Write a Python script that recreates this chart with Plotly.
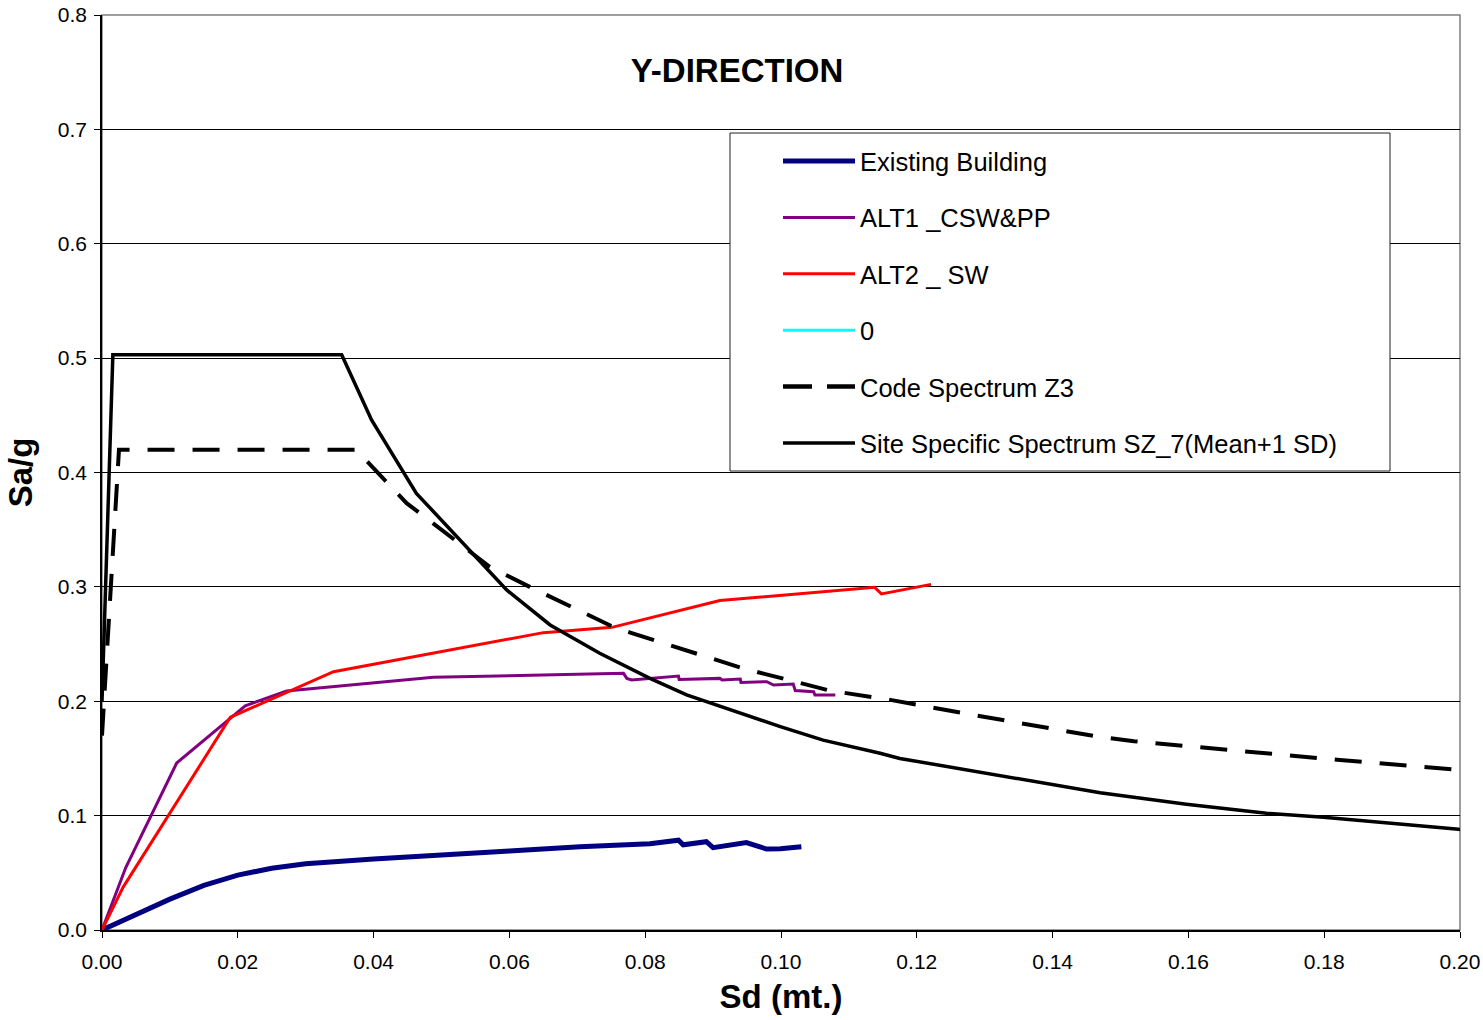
import plotly.graph_objects as go

# ---------------- data ----------------
series_names = ["Existing Building", "ALT1 _CSW&PP", "ALT2 _ SW", "0",
                "Code Spectrum Z3", "Site Specific Spectrum SZ_7(Mean+1 SD)"]

sd_existing = [0.0, 0.005, 0.010, 0.015, 0.020, 0.025, 0.030, 0.040, 0.050, 0.060,
               0.0704, 0.0807, 0.0849, 0.0856, 0.0890, 0.0900, 0.0949, 0.0979, 0.0999, 0.1030]
sa_existing = [0.0, 0.014, 0.027, 0.039, 0.048, 0.054, 0.058, 0.062, 0.066, 0.069,
               0.0728, 0.0755, 0.0785, 0.0745, 0.0772, 0.0720, 0.0764, 0.0708, 0.0710, 0.0728]

sd_alt1 = [0.0, 0.0035, 0.0110, 0.0211, 0.0272, 0.0488, 0.0768, 0.0773, 0.0780, 0.0849,
           0.0850, 0.0910, 0.0913, 0.0940, 0.0941, 0.0979, 0.0989, 0.1018, 0.1021, 0.1048,
           0.1050, 0.1080]
sa_alt1 = [0.0, 0.0546, 0.146, 0.196, 0.209, 0.2209, 0.2244, 0.2200, 0.2186, 0.2220,
           0.2191, 0.2200, 0.2186, 0.2194, 0.2165, 0.2171, 0.2142, 0.2150, 0.2093, 0.2084,
           0.2055, 0.2055]

sd_alt2 = [0.0, 0.0031, 0.0189, 0.0272, 0.0341, 0.0650, 0.0751, 0.0910, 0.1138, 0.1148, 0.1221]
sa_alt2 = [0.0, 0.0373, 0.186, 0.208, 0.2258, 0.260, 0.2646, 0.288, 0.2996, 0.2938, 0.3022]

sd_zero = []
sa_zero = []

sd_code = [0.0, 0.0025, 0.0374, 0.0390, 0.0449, 0.0468, 0.0571, 0.0630, 0.0753, 0.0778,
           0.0880, 0.0944, 0.1072, 0.1163, 0.1270, 0.1400, 0.1467, 0.1520, 0.1823, 0.2000]
sa_code = [0.170, 0.420, 0.420, 0.410, 0.373, 0.3645, 0.3176, 0.300, 0.265, 0.260,
           0.2404, 0.2288, 0.2093, 0.201, 0.1894, 0.1763, 0.169, 0.165, 0.1486, 0.140]

sd_site = [0.0, 0.0016, 0.0353, 0.0397, 0.0463, 0.0596, 0.0660, 0.0733, 0.0807, 0.0861,
           0.0999, 0.1062, 0.1146, 0.1175, 0.1470, 0.1597, 0.1715, 0.1799, 0.1998, 0.2010]
sa_site = [0.200, 0.503, 0.503, 0.446, 0.3818, 0.2973, 0.2667, 0.242, 0.220, 0.2055,
           0.1778, 0.166, 0.1545, 0.150, 0.120, 0.110, 0.102, 0.0985, 0.088, 0.0874]

x_ticks = [0.00, 0.02, 0.04, 0.06, 0.08, 0.10, 0.12, 0.14, 0.16, 0.18, 0.20]
y_ticks = [0.0, 0.1, 0.2, 0.3, 0.4, 0.5, 0.6, 0.7, 0.8]

# ---------------- styles ----------------
styles = [
    dict(color="#000080", width=5, dash="solid"),
    dict(color="#800080", width=3, dash="solid"),
    dict(color="#FF0000", width=3, dash="solid"),
    dict(color="#00FFFF", width=3, dash="solid"),
    dict(color="#000000", width=4, dash="27px,18px"),
    dict(color="#000000", width=3.5, dash="solid"),
]
xs = [sd_existing, sd_alt1, sd_alt2, sd_zero, sd_code, sd_site]
ys = [sa_existing, sa_alt1, sa_alt2, sa_zero, sa_code, sa_site]

FONT = "Liberation Sans, Arial, sans-serif"
W, H = 1483, 1020
PL, PR, PT, PB = 102, 1460, 15, 930   # plot area in screen pixels
ML, MT = PL, PT
MR = W - PR
MB = H - PB
PW, PH = PR - PL, PB - PT


def px_x(p):
    return (p - PL) / PW


def px_y(p):
    return (PB - p) / PH


fig = go.Figure()
for name, x, y, st in zip(series_names, xs, ys, styles):
    fig.add_trace(go.Scatter(x=x, y=y, mode="lines", name=name,
                             line=dict(color=st["color"], width=st["width"], dash=st["dash"]),
                             showlegend=False, hoverinfo="x+y+name"))

shapes = [
    # plot frame (gray top/right)
    dict(type="rect", xref="paper", yref="paper", x0=0, x1=1, y0=0, y1=1,
         line=dict(color="#808080", width=1.5), layer="below"),
    # legend box
    dict(type="rect", xref="paper", yref="paper",
         x0=px_x(730), x1=px_x(1390), y0=px_y(471), y1=px_y(133),
         line=dict(color="#202020", width=1), fillcolor="white", layer="above"),
]
annotations = []
legend_dash = ["solid", "solid", "solid", "solid", "29px,15px", "solid"]
legend_width = [5, 3, 3, 3, 4.5, 3.5]
for i, (name, st) in enumerate(zip(series_names, styles)):
    yc = 161 + 56.4 * i
    shapes.append(dict(type="line", xref="paper", yref="paper",
                       x0=px_x(783), x1=px_x(855), y0=px_y(yc), y1=px_y(yc),
                       line=dict(color=st["color"], width=legend_width[i], dash=legend_dash[i]),
                       layer="above"))
    annotations.append(dict(xref="paper", yref="paper", x=px_x(858), y=px_y(yc + 1),
                            text=name, showarrow=False, xanchor="left", yanchor="middle",
                            font=dict(family=FONT, size=25.5, color="black")))

fig.update_layout(
    width=W, height=H,
    margin=dict(l=ML, r=MR, t=MT, b=MB, autoexpand=False),
    paper_bgcolor="white", plot_bgcolor="white",
    showlegend=False,
    title=dict(text="<b>Y-DIRECTION</b>", x=737 / W, y=1 - 70 / H,
               xanchor="center", yanchor="middle",
               font=dict(family=FONT, size=33, color="black")),
    shapes=shapes,
    annotations=annotations,
    font=dict(family=FONT, color="black"),
)
fig.update_xaxes(range=[0, 0.2], tickvals=x_ticks, tickformat=".2f", automargin=False,
                 ticklabeloverflow="allow", ticklabelstandoff=6,
                 ticks="outside", ticklen=6, tickcolor="black",
                 showline=True, linecolor="black", linewidth=1.5,
                 showgrid=False, zeroline=False,
                 tickfont=dict(family=FONT, size=21, color="black"),
                 title=dict(text="<b>Sd (mt.)</b>", standoff=13,
                            font=dict(family=FONT, size=33, color="black")))
fig.update_yaxes(range=[0, 0.8], tickvals=y_ticks, tickformat=".1f", automargin=False,
                 ticklabeloverflow="allow", ticklabelstandoff=3,
                 ticks="outside", ticklen=6, tickcolor="black",
                 showline=True, linecolor="black", linewidth=1.5,
                 showgrid=True, gridcolor="black", gridwidth=1, zeroline=False,
                 tickfont=dict(family=FONT, size=21, color="black"),
                 title=dict(text="<b>Sa/g</b>", standoff=15,
                            font=dict(family=FONT, size=33, color="black")))

fig.write_html("out.html",
               config={"displayModeBar": False},
               post_script="document.body.style.margin='0px';"
                           "document.body.style.overflow='hidden';")
